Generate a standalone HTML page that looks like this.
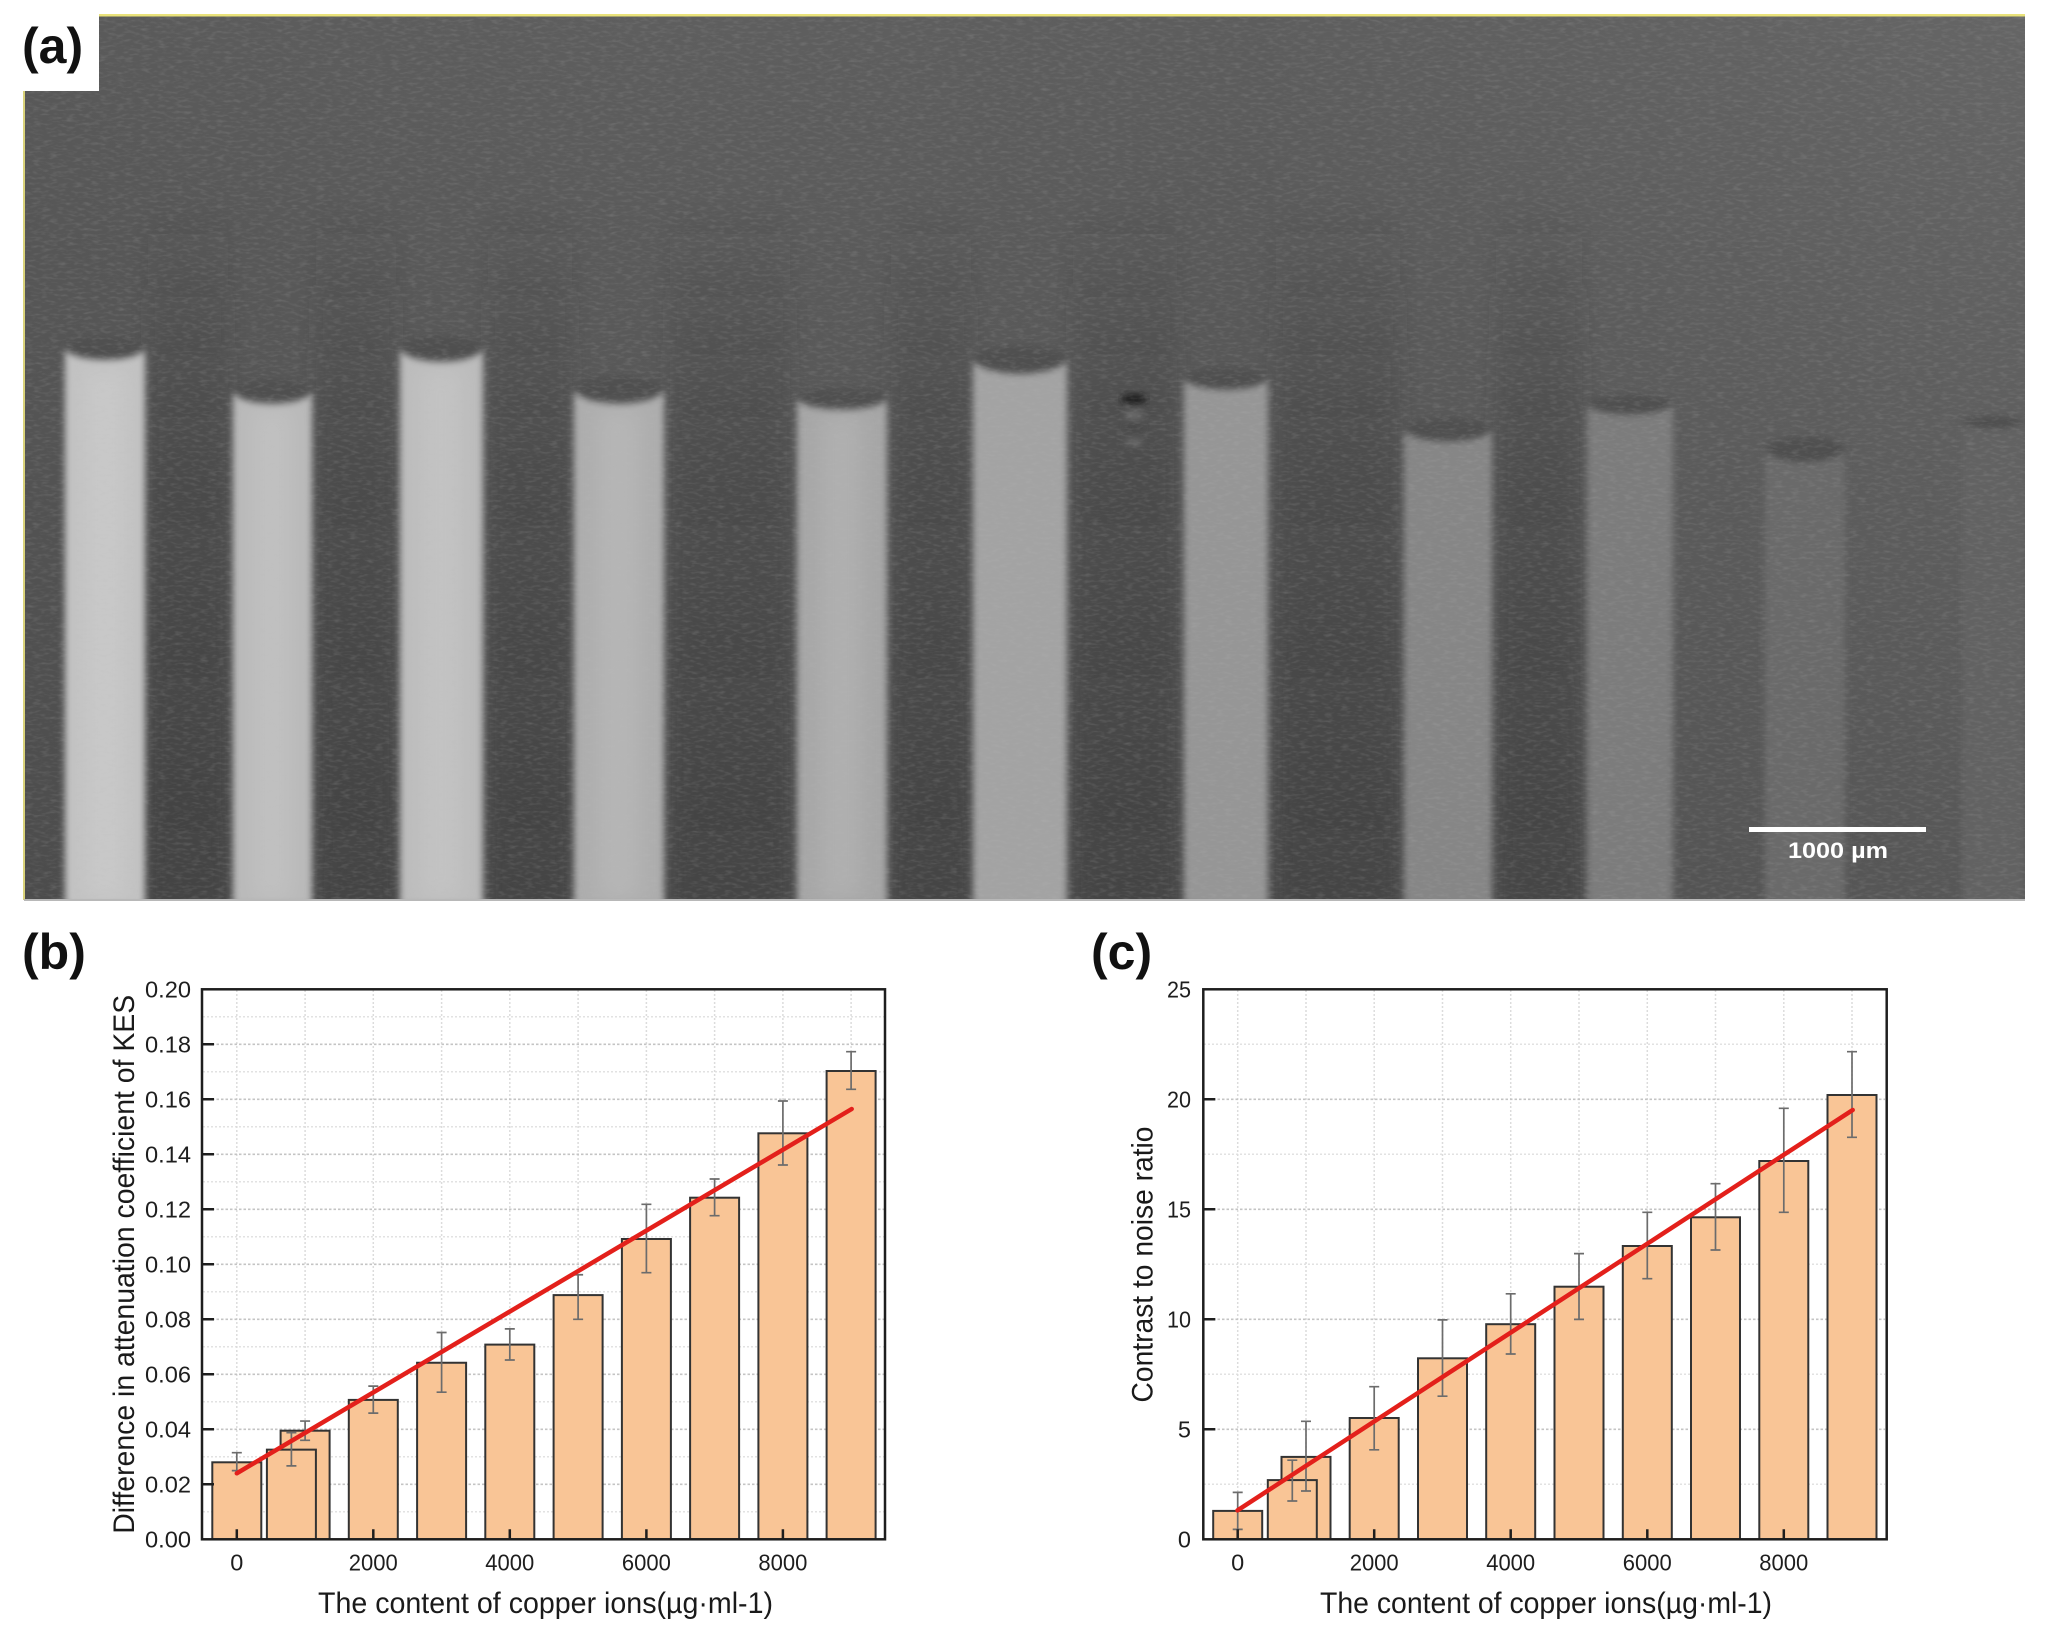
<!DOCTYPE html>
<html>
<head>
<meta charset="utf-8">
<style>
html,body{margin:0;padding:0;background:#fff;}
svg{display:block;}
text{font-family:"Liberation Sans",Arial,sans-serif;}
</style>
</head>
<body>
<svg width="2046" height="1643" viewBox="0 0 2046 1643" xmlns="http://www.w3.org/2000/svg">
<defs>
  <clipPath id="photoClip"><rect x="24" y="16" width="2001" height="884"/></clipPath>
  <linearGradient id="bgV" x1="0" y1="0" x2="0" y2="1">
    <stop offset="0" stop-color="#5d5d5d"/>
    <stop offset="0.45" stop-color="#575757"/>
    <stop offset="1" stop-color="#4f4f4f"/>
  </linearGradient>
  <linearGradient id="bgH" x1="0" y1="0" x2="1" y2="0">
    <stop offset="0" stop-color="#000" stop-opacity="0.04"/>
    <stop offset="0.6" stop-color="#fff" stop-opacity="0"/>
    <stop offset="1" stop-color="#fff" stop-opacity="0.05"/>
  </linearGradient>
  <linearGradient id="bandG" gradientUnits="userSpaceOnUse" x1="0" y1="200" x2="0" y2="900">
    <stop offset="0" stop-color="#3c3c3c" stop-opacity="0"/>
    <stop offset="0.35" stop-color="#3c3c3c" stop-opacity="0.35"/>
    <stop offset="1" stop-color="#3c3c3c" stop-opacity="0.6"/>
  </linearGradient>
  <filter id="soft" x="-10%" y="-10%" width="120%" height="120%">
    <feGaussianBlur stdDeviation="3.5"/>
  </filter>
  <filter id="softer" x="-30%" y="-10%" width="160%" height="120%">
    <feGaussianBlur stdDeviation="10"/>
  </filter>
  <filter id="noise" x="0" y="0" width="100%" height="100%">
    <feTurbulence type="fractalNoise" baseFrequency="0.12 0.35" numOctaves="2" seed="7" result="t"/>
    <feColorMatrix type="matrix" values="0 0 0 0 0.5  0 0 0 0 0.5  0 0 0 0 0.5  1.2 0 0 0 -0.55" />
  </filter>
</defs>

<!-- ================= PANEL (a) PHOTO ================= -->
<g clip-path="url(#photoClip)">
  <rect x="24" y="16" width="2001" height="884" fill="url(#bgV)"/>
  <rect x="24" y="16" width="2001" height="884" fill="url(#bgH)"/>

  <g filter="url(#softer)" fill="url(#bandG)">
    <rect x="148" y="200" width="80" height="710"/>
    <rect x="316" y="200" width="80" height="710"/>
    <rect x="488" y="200" width="84" height="710"/>
    <rect x="670" y="200" width="120" height="710"/>
    <rect x="891" y="200" width="80" height="710"/>
    <rect x="1073" y="200" width="104" height="710"/>
    <rect x="1276" y="200" width="124" height="710"/>
    <rect x="1496" y="200" width="86" height="710"/>
  </g>

  <g fill="#505050" filter="url(#soft)">
    <ellipse cx="105" cy="349" rx="40" ry="12"/>
    <ellipse cx="272.5" cy="392" rx="39.5" ry="12"/>
    <ellipse cx="441.5" cy="349" rx="41.5" ry="13"/>
    <ellipse cx="619" cy="390" rx="45" ry="14"/>
    <ellipse cx="842" cy="399" rx="45" ry="11"/>
    <ellipse cx="1020" cy="360" rx="47" ry="14"/>
    <ellipse cx="1226" cy="379" rx="42" ry="11"/>
    <ellipse cx="1448" cy="430" rx="44" ry="12"/>
    <ellipse cx="1630" cy="405" rx="43" ry="10"/>
    <ellipse cx="1805" cy="450" rx="40" ry="13"/>
    <ellipse cx="1993" cy="423" rx="31" ry="7"/>
  </g>

  <g filter="url(#soft)">
    <path d="M65 905 L65 347 A40 13 0 0 0 145 347 L145 905 Z" fill="#c2c2c2"/>
    <path d="M233 905 L233 390 A39.5 14 0 0 0 312 390 L312 905 Z" fill="#b9b9b9"/>
    <path d="M400 905 L400 347 A41.5 15 0 0 0 483 347 L483 905 Z" fill="#bcbcbc"/>
    <path d="M574 905 L574 388 A45 16 0 0 0 664 388 L664 905 Z" fill="#adadad"/>
    <path d="M797 905 L797 397 A45 13 0 0 0 887 397 L887 905 Z" fill="#a6a6a6"/>
    <path d="M973 905 L973 358 A47 16 0 0 0 1067 358 L1067 905 Z" fill="#a3a3a3"/>
    <path d="M1184 905 L1184 377 A42 13 0 0 0 1268 377 L1268 905 Z" fill="#969696"/>
    <path d="M1404 905 L1404 428 A44 14 0 0 0 1492 428 L1492 905 Z" fill="#868686"/>
    <path d="M1587 905 L1587 403 A43 12 0 0 0 1673 403 L1673 905 Z" fill="#7b7b7b"/>
    <path d="M1765 905 L1765 448 A40 15 0 0 0 1845 448 L1845 905 Z" fill="#6b6b6b"/>
    <path d="M1962 905 L1962 422 A31 8 0 0 0 2024 422 L2024 905 Z" fill="#626262"/>
  </g>

  <g filter="url(#softer)" fill="#fff" opacity="0.10">
    <rect x="85" y="370" width="40" height="530"/>
    <rect x="252" y="410" width="40" height="490"/>
    <rect x="420" y="370" width="42" height="530"/>
    <rect x="598" y="410" width="42" height="490"/>
    <rect x="820" y="415" width="42" height="485"/>
  </g>

  <g filter="url(#soft)">
    <ellipse cx="1134" cy="399" rx="13" ry="5" fill="#1a1a1a"/>
    <ellipse cx="1134" cy="415" rx="10" ry="3" fill="#777"/>
    <ellipse cx="1134" cy="428" rx="10" ry="3" fill="#444"/>
    <ellipse cx="1134" cy="442" rx="9" ry="3" fill="#6e6e6e"/>
  </g>

  <rect x="24" y="16" width="2001" height="884" filter="url(#noise)" opacity="0.35"/>
</g>

<rect x="24" y="14" width="2001" height="2.5" fill="#e9e27a"/>
<rect x="23" y="16" width="2" height="884" fill="#d9d27a"/>
<rect x="24" y="899" width="2001" height="2" fill="#b8b8b8"/>

<rect x="1749" y="827" width="177" height="5" fill="#ffffff"/>
<text x="1838" y="858" font-size="22" font-weight="bold" fill="#ffffff" text-anchor="middle" textLength="100" lengthAdjust="spacingAndGlyphs">1000 µm</text>

<rect x="0" y="0" width="99" height="91" fill="#ffffff"/>
<text x="22" y="63" font-size="50" font-weight="bold" fill="#111">(a)</text>

<!-- ================= PANEL (b) ================= -->
<text x="22" y="969" font-size="50" font-weight="bold" fill="#111">(b)</text>

<path d="M203 1511.8H884M203 1456.8H884M203 1401.8H884M203 1346.8H884M203 1291.8H884M203 1236.8H884M203 1181.8H884M203 1126.8H884M203 1071.8H884M203 1016.8H884" stroke="#e2e2e2" stroke-width="1.5" stroke-dasharray="2 2" fill="none"/>
<path d="M236.8 990V1538M305.1 990V1538M373.3 990V1538M441.6 990V1538M509.8 990V1538M578.1 990V1538M646.4 990V1538M714.6 990V1538M782.9 990V1538M851.1 990V1538" stroke="#dcdcdc" stroke-width="1.5" stroke-dasharray="2 2" fill="none"/>
<path d="M203 1484.3H884M203 1429.3H884M203 1374.3H884M203 1319.3H884M203 1264.3H884M203 1209.3H884M203 1154.3H884M203 1099.3H884M203 1044.3H884" stroke="#c4c4c4" stroke-width="1.6" stroke-dasharray="2.5 2" fill="none"/>

<g fill="#f9c596" stroke="#333" stroke-width="2">
  <rect x="212.3" y="1462.3" width="49" height="77"/>
  <rect x="280.6" y="1430.7" width="49" height="108.6"/>
  <rect x="266.9" y="1449.65" width="49" height="89.65"/>
  <rect x="348.8" y="1399.9" width="49" height="139.4"/>
  <rect x="417.1" y="1362.75" width="49" height="176.55"/>
  <rect x="485.3" y="1344.6" width="49" height="194.7"/>
  <rect x="553.6" y="1295.1" width="49" height="244.2"/>
  <rect x="621.9" y="1239" width="49" height="300.3"/>
  <rect x="690.1" y="1197.7" width="49" height="341.6"/>
  <rect x="758.4" y="1133.3" width="49" height="406"/>
  <rect x="826.6" y="1071" width="49" height="468.3"/>
</g>

<path d="M236.8 1452.7V1470.6M231.8 1452.7h10M231.8 1470.6h10
M291.4 1432.6V1465.9M286.4 1432.6h10M286.4 1465.9h10
M305.1 1421.05V1440.3M300.1 1421.05h10M300.1 1440.3h10
M373.3 1386.1V1413.1M368.3 1386.1h10M368.3 1413.1h10
M441.6 1332.5V1392.2M436.6 1332.5h10M436.6 1392.2h10
M509.8 1328.9V1360M504.8 1328.9h10M504.8 1360h10
M578.1 1274.75V1319.3M573.1 1274.75h10M573.1 1319.3h10
M646.4 1204.3V1272.7M641.4 1204.3h10M641.4 1272.7h10
M714.6 1179V1215.7M709.6 1179h10M709.6 1215.7h10
M782.9 1101V1165M777.9 1101h10M777.9 1165h10
M851.1 1051.7V1089.3M846.1 1051.7h10M846.1 1089.3h10" stroke="#6c6c6c" stroke-width="1.7" fill="none"/>

<line x1="236.8" y1="1473.3" x2="851.7" y2="1109" stroke="#e3201b" stroke-width="4.5" stroke-linecap="round"/>

<path d="M202 1484.3h12M202 1429.3h12M202 1374.3h12M202 1319.3h12M202 1264.3h12M202 1209.3h12M202 1154.3h12M202 1099.3h12M202 1044.3h12
M236.8 1539.3v-10M373.3 1539.3v-10M509.8 1539.3v-10M646.4 1539.3v-10M782.9 1539.3v-10" stroke="#1e1e1e" stroke-width="2.5" fill="none"/>

<rect x="202" y="989.3" width="683" height="550" fill="none" stroke="#1e1e1e" stroke-width="2.5"/>

<g font-size="23.5" fill="#1e1e1e" text-anchor="end">
  <text x="191" y="1547.5" textLength="46" lengthAdjust="spacingAndGlyphs">0.00</text>
  <text x="191" y="1492.5" textLength="46" lengthAdjust="spacingAndGlyphs">0.02</text>
  <text x="191" y="1437.5" textLength="46" lengthAdjust="spacingAndGlyphs">0.04</text>
  <text x="191" y="1382.5" textLength="46" lengthAdjust="spacingAndGlyphs">0.06</text>
  <text x="191" y="1327.5" textLength="46" lengthAdjust="spacingAndGlyphs">0.08</text>
  <text x="191" y="1272.5" textLength="46" lengthAdjust="spacingAndGlyphs">0.10</text>
  <text x="191" y="1217.5" textLength="46" lengthAdjust="spacingAndGlyphs">0.12</text>
  <text x="191" y="1162.5" textLength="46" lengthAdjust="spacingAndGlyphs">0.14</text>
  <text x="191" y="1107.5" textLength="46" lengthAdjust="spacingAndGlyphs">0.16</text>
  <text x="191" y="1052.5" textLength="46" lengthAdjust="spacingAndGlyphs">0.18</text>
  <text x="191" y="997.5" textLength="46" lengthAdjust="spacingAndGlyphs">0.20</text>
</g>
<g font-size="23.5" fill="#1e1e1e" text-anchor="middle">
  <text x="236.8" y="1570.5">0</text>
  <text x="373.3" y="1570.5" textLength="49" lengthAdjust="spacingAndGlyphs">2000</text>
  <text x="509.8" y="1570.5" textLength="49" lengthAdjust="spacingAndGlyphs">4000</text>
  <text x="646.4" y="1570.5" textLength="49" lengthAdjust="spacingAndGlyphs">6000</text>
  <text x="782.9" y="1570.5" textLength="49" lengthAdjust="spacingAndGlyphs">8000</text>
</g>

<text x="318" y="1613" font-size="30" fill="#1a1a1a" textLength="455" lengthAdjust="spacingAndGlyphs">The content of copper ions(µg·ml-1)</text>
<text transform="translate(134,1264.3) rotate(-90)" font-size="30" fill="#1a1a1a" text-anchor="middle" textLength="539" lengthAdjust="spacingAndGlyphs">Difference in attenuation coefficient of KES</text>

<!-- ================= PANEL (c) ================= -->
<text x="1091" y="969" font-size="50" font-weight="bold" fill="#111">(c)</text>

<path d="M1204 1484.3H1885M1204 1374.3H1885M1204 1264.3H1885M1204 1154.3H1885M1204 1044.3H1885" stroke="#e2e2e2" stroke-width="1.5" stroke-dasharray="2 2" fill="none"/>
<path d="M1237.7 990V1538M1306 990V1538M1374.2 990V1538M1442.5 990V1538M1510.7 990V1538M1579 990V1538M1647.3 990V1538M1715.5 990V1538M1783.8 990V1538M1852 990V1538" stroke="#dcdcdc" stroke-width="1.5" stroke-dasharray="2 2" fill="none"/>
<path d="M1204 1429.3H1885M1204 1319.3H1885M1204 1209.3H1885M1204 1099.3H1885" stroke="#c4c4c4" stroke-width="1.6" stroke-dasharray="2.5 2" fill="none"/>

<g fill="#f9c596" stroke="#333" stroke-width="2">
  <rect x="1213.2" y="1510.9" width="49" height="28.4"/>
  <rect x="1281.5" y="1456.9" width="49" height="82.4"/>
  <rect x="1267.8" y="1480.1" width="49" height="59.2"/>
  <rect x="1349.7" y="1418" width="49" height="121.3"/>
  <rect x="1418" y="1358.3" width="49" height="181"/>
  <rect x="1486.2" y="1324.2" width="49" height="215.1"/>
  <rect x="1554.5" y="1286.7" width="49" height="252.6"/>
  <rect x="1622.8" y="1246" width="49" height="293.3"/>
  <rect x="1691" y="1217.3" width="49" height="322"/>
  <rect x="1759.3" y="1161" width="49" height="378.3"/>
  <rect x="1827.5" y="1095" width="49" height="444.3"/>
</g>

<path d="M1237.7 1492.4V1529.4M1232.7 1492.4h10M1232.7 1529.4h10
M1292.3 1460.2V1501M1287.3 1460.2h10M1287.3 1501h10
M1306 1421.3V1491M1301 1421.3h10M1301 1491h10
M1374.2 1386.7V1449.8M1369.2 1386.7h10M1369.2 1449.8h10
M1442.5 1319.9V1396.2M1437.5 1319.9h10M1437.5 1396.2h10
M1510.7 1293.8V1354M1505.7 1293.8h10M1505.7 1354h10
M1579 1253.6V1319.4M1574 1253.6h10M1574 1319.4h10
M1647.3 1212.3V1278.7M1642.3 1212.3h10M1642.3 1278.7h10
M1715.5 1183.7V1250M1710.5 1183.7h10M1710.5 1250h10
M1783.8 1108.3V1212.3M1778.8 1108.3h10M1778.8 1212.3h10
M1852 1051.7V1137.3M1847 1051.7h10M1847 1137.3h10" stroke="#6c6c6c" stroke-width="1.7" fill="none"/>

<line x1="1237.5" y1="1510.4" x2="1852.7" y2="1110" stroke="#e3201b" stroke-width="4.5" stroke-linecap="round"/>

<path d="M1203.3 1429.3h12M1203.3 1319.3h12M1203.3 1209.3h12M1203.3 1099.3h12
M1237.7 1539.3v-10M1374.2 1539.3v-10M1510.7 1539.3v-10M1647.3 1539.3v-10M1783.8 1539.3v-10" stroke="#1e1e1e" stroke-width="2.5" fill="none"/>

<rect x="1203.3" y="989.3" width="683.4" height="550" fill="none" stroke="#1e1e1e" stroke-width="2.5"/>

<g font-size="23.5" fill="#1e1e1e" text-anchor="end">
  <text x="1191" y="1547.5">0</text>
  <text x="1191" y="1437.5">5</text>
  <text x="1191" y="1327.5" textLength="24" lengthAdjust="spacingAndGlyphs">10</text>
  <text x="1191" y="1217.5" textLength="24" lengthAdjust="spacingAndGlyphs">15</text>
  <text x="1191" y="1107.5" textLength="24" lengthAdjust="spacingAndGlyphs">20</text>
  <text x="1191" y="997.5" textLength="24" lengthAdjust="spacingAndGlyphs">25</text>
</g>
<g font-size="23.5" fill="#1e1e1e" text-anchor="middle">
  <text x="1237.7" y="1570.5">0</text>
  <text x="1374.2" y="1570.5" textLength="49" lengthAdjust="spacingAndGlyphs">2000</text>
  <text x="1510.7" y="1570.5" textLength="49" lengthAdjust="spacingAndGlyphs">4000</text>
  <text x="1647.3" y="1570.5" textLength="49" lengthAdjust="spacingAndGlyphs">6000</text>
  <text x="1783.8" y="1570.5" textLength="49" lengthAdjust="spacingAndGlyphs">8000</text>
</g>

<text x="1320" y="1613" font-size="30" fill="#1a1a1a" textLength="452" lengthAdjust="spacingAndGlyphs">The content of copper ions(µg·ml-1)</text>
<text transform="translate(1152.5,1264.5) rotate(-90)" font-size="30" fill="#1a1a1a" text-anchor="middle" textLength="276" lengthAdjust="spacingAndGlyphs">Contrast to noise ratio</text>

</svg>
</body>
</html>
